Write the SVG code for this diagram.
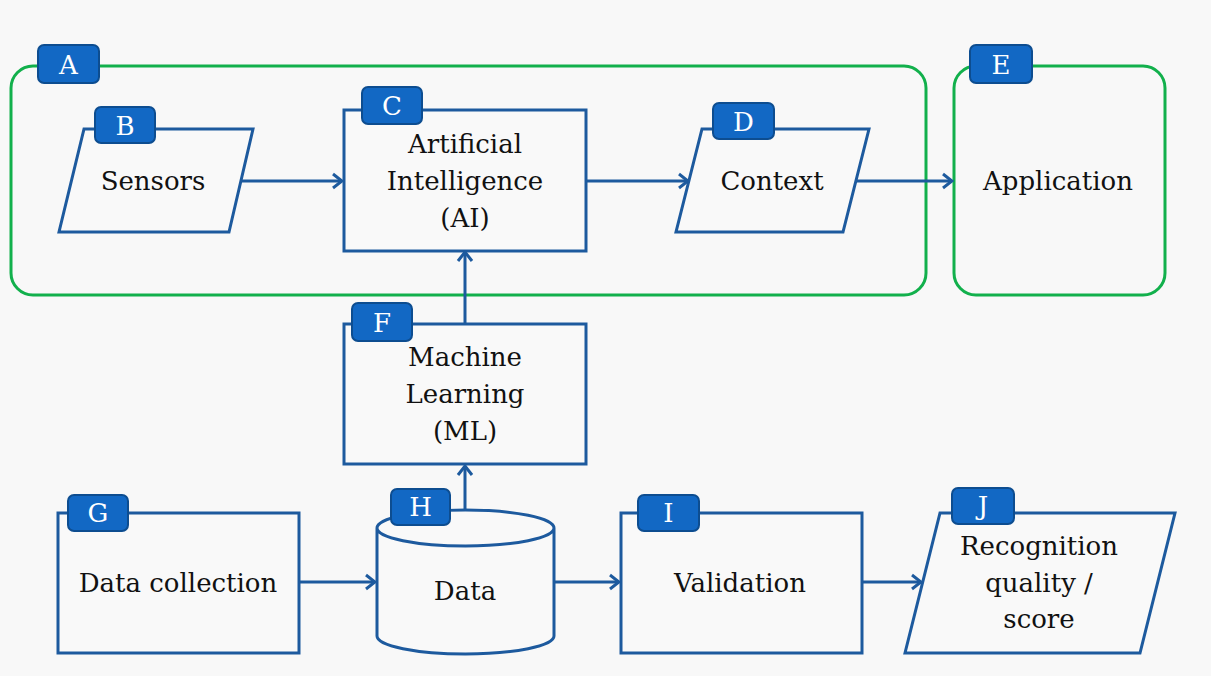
<svg xmlns="http://www.w3.org/2000/svg" width="1211" height="676" viewBox="0 0 1211 676">
  <style>
    .group { fill: none; stroke: #12b04c; stroke-width: 3; }
    .shape { fill: #f9f9f9; stroke: #1d5a9e; stroke-width: 3; stroke-linejoin: miter; }
    .tag { fill: #1268c4; stroke: #0d4d90; stroke-width: 2; }
    .tagtxt { fill: #ffffff; font-family: "DejaVu Serif", "Liberation Serif", serif; font-size: 26px; text-anchor: middle; }
    .lbl { fill: #111111; font-family: "DejaVu Serif", "Liberation Serif", serif; font-size: 26px; text-anchor: middle; }
    .conn { fill: none; stroke: #1d5a9e; stroke-width: 3; }
  </style>
  <defs>
    <marker id="arrow" markerUnits="userSpaceOnUse" viewBox="-12 -9 14 18" refX="0" refY="0" markerWidth="14" markerHeight="18" orient="auto">
      <path d="M-9,-7 L0,0 L-9,7" fill="none" stroke="#1d5a9e" stroke-width="3"/>
    </marker>
  </defs>

  <rect x="0" y="0" width="1211" height="676" fill="#f8f8f8"/>

  <!-- Containers -->
  <g id="A">
    <rect class="group" x="11" y="66" width="915" height="229" rx="22"/>
    <rect class="tag" x="38" y="45" width="61" height="38" rx="6"/>
    <text class="tagtxt" x="68.5" y="74">A</text>
  </g>
  <g id="E">
    <rect class="group" x="954" y="66" width="211" height="229" rx="22"/>
    <rect class="tag" x="970" y="45" width="62" height="38" rx="6"/>
    <text class="tagtxt" x="1001" y="74">E</text>
    <text class="lbl" x="1058" y="190">Application</text>
  </g>

  <!-- Connectors -->
  <g id="connectors">
    <line class="conn" x1="241" y1="181" x2="342" y2="181" marker-end="url(#arrow)"/>
    <line class="conn" x1="586" y1="181" x2="688" y2="181" marker-end="url(#arrow)"/>
    <line class="conn" x1="856" y1="181" x2="952" y2="181" marker-end="url(#arrow)"/>
    <line class="conn" x1="465" y1="324" x2="465" y2="252" marker-end="url(#arrow)"/>
    <line class="conn" x1="465" y1="510" x2="465" y2="466" marker-end="url(#arrow)"/>
    <line class="conn" x1="299" y1="582" x2="375" y2="582" marker-end="url(#arrow)"/>
    <line class="conn" x1="554" y1="582" x2="619" y2="582" marker-end="url(#arrow)"/>
    <line class="conn" x1="862" y1="582" x2="921" y2="582" marker-end="url(#arrow)"/>
  </g>

  <!-- Nodes -->
  <g id="B">
    <polygon class="shape" points="84,129 253,129 229,232 59,232"/>
    <rect class="tag" x="95" y="107" width="60" height="36" rx="6"/>
    <text class="tagtxt" x="125" y="135">B</text>
    <text class="lbl" x="153" y="190">Sensors</text>
  </g>
  <g id="C">
    <rect class="shape" x="344" y="110" width="242" height="141"/>
    <rect class="tag" x="362" y="87" width="60" height="37" rx="6"/>
    <text class="tagtxt" x="392" y="115">C</text>
    <text class="lbl" x="465" y="153">Artificial</text>
    <text class="lbl" x="465" y="190">Intelligence</text>
    <text class="lbl" x="465" y="227">(AI)</text>
  </g>
  <g id="D">
    <polygon class="shape" points="702,129 869,129 843,232 676,232"/>
    <rect class="tag" x="713" y="103" width="61" height="36" rx="6"/>
    <text class="tagtxt" x="743.5" y="131">D</text>
    <text class="lbl" x="772" y="190">Context</text>
  </g>
  <g id="F">
    <rect class="shape" x="344" y="324" width="242" height="140"/>
    <rect class="tag" x="352" y="303" width="60" height="38" rx="6"/>
    <text class="tagtxt" x="382" y="332">F</text>
    <text class="lbl" x="465" y="366">Machine</text>
    <text class="lbl" x="465" y="403">Learning</text>
    <text class="lbl" x="465" y="440">(ML)</text>
  </g>
  <g id="G">
    <rect class="shape" x="58" y="513" width="241" height="140"/>
    <rect class="tag" x="68" y="495" width="60" height="36" rx="6"/>
    <text class="tagtxt" x="98" y="522">G</text>
    <text class="lbl" x="178" y="592">Data collection</text>
  </g>
  <g id="H">
    <path class="shape" d="M377,528 V636 A88.5,18 0 0 0 554,636 V528 A88.5,18 0 0 0 377,528 A88.5,18 0 0 0 554,528"/>
    <rect class="tag" x="391" y="489" width="59" height="36" rx="6"/>
    <text class="tagtxt" x="420.5" y="516">H</text>
    <text class="lbl" x="465" y="600">Data</text>
  </g>
  <g id="I">
    <rect class="shape" x="621" y="513" width="241" height="140"/>
    <rect class="tag" x="638" y="495" width="61" height="36" rx="6"/>
    <text class="tagtxt" x="668.5" y="522">I</text>
    <text class="lbl" x="740" y="592">Validation</text>
  </g>
  <g id="J">
    <polygon class="shape" points="940,513 1175,513 1140,653 905,653"/>
    <rect class="tag" x="952" y="488" width="62" height="36" rx="6"/>
    <text class="tagtxt" x="983" y="515">J</text>
    <text class="lbl" x="1039" y="555">Recognition</text>
    <text class="lbl" x="1039" y="592">quality /</text>
    <text class="lbl" x="1039" y="628">score</text>
  </g>
</svg>
